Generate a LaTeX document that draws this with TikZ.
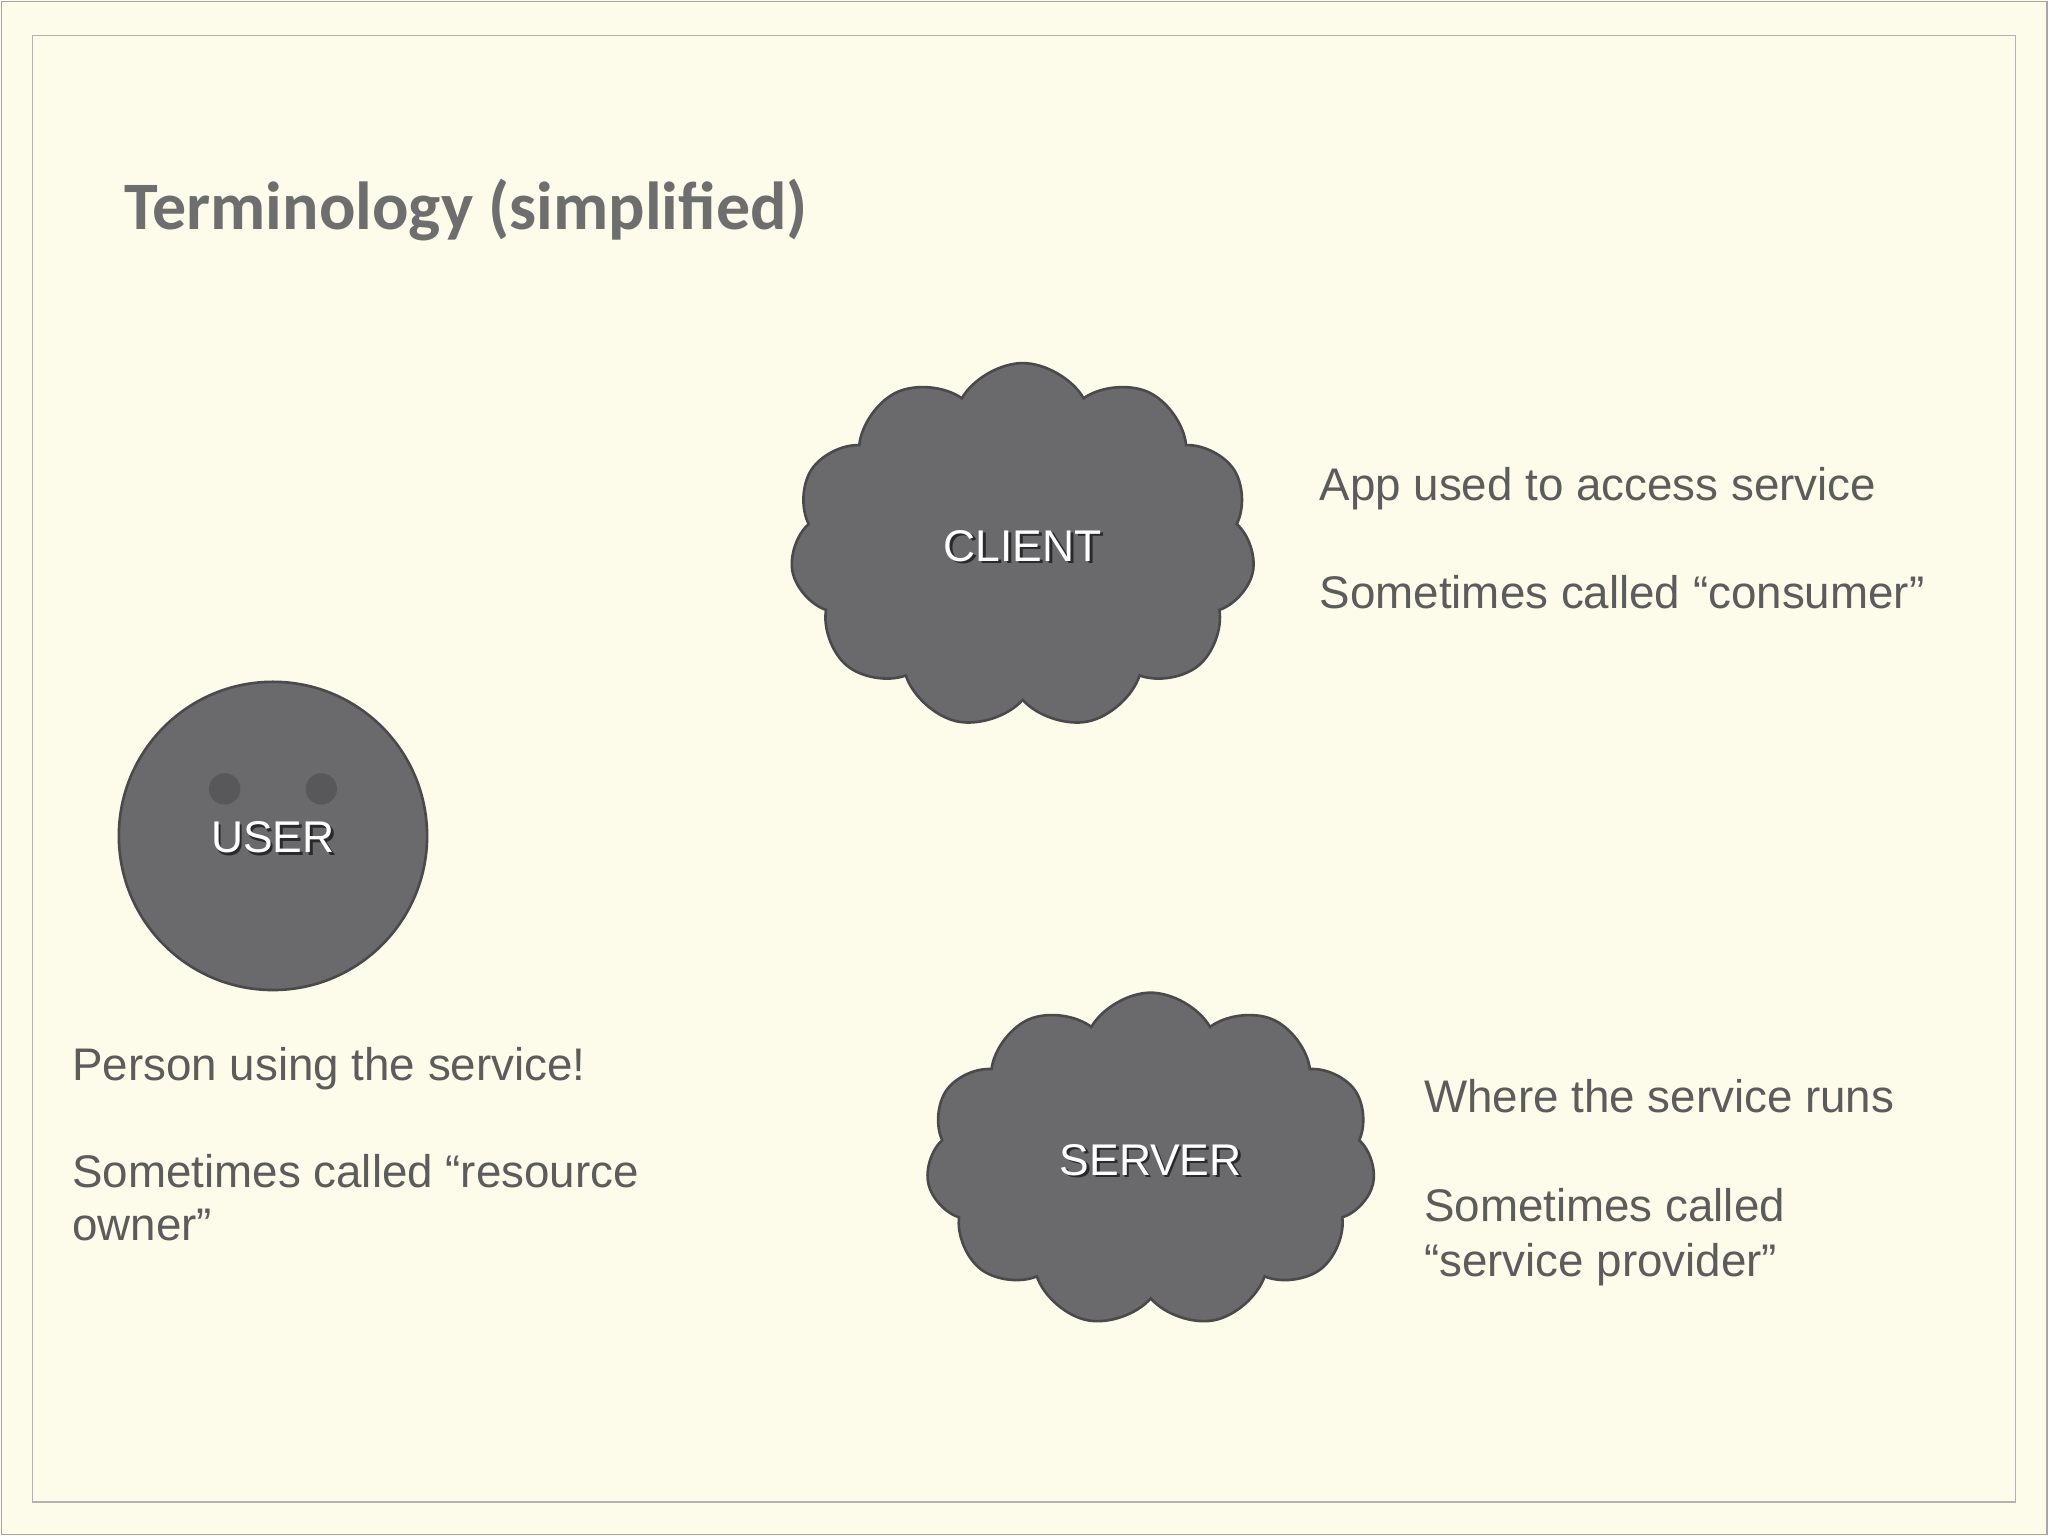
\documentclass[tikz,border=0pt]{standalone}
\usepackage{fontspec}
\setmainfont{Liberation Sans}
\newfontfamily\titlefont{Carlito}
\usetikzlibrary{shapes.symbols,calc}
\definecolor{bg}{HTML}{FDFBEA}
\definecolor{shape}{HTML}{6A6A6C}
\definecolor{eye}{HTML}{58585A}
\definecolor{txt}{HTML}{5C5C5C}
\definecolor{ttl}{HTML}{6E6E6E}
\tikzset{
  body/.style={anchor=base west,inner sep=0pt,text=txt,font=\fontsize{17.5}{21}\selectfont},
  lbl/.style={text=white,font=\fontsize{17}{20}\selectfont},
  lblsh/.style={text=black,opacity=0.6,font=\fontsize{17}{20}\selectfont},
  blob/.style={fill=shape,draw=shape!70!black,line width=1pt},
}
\begin{document}
\begin{tikzpicture}[x=0.5pt,y=-0.5pt]
\fill[bg] (0,0) rectangle (1568,1176);
\useasboundingbox (0,0) rectangle (1568,1176);
\draw[gray!70,line width=0.6pt] (1,1) rectangle (1567,1175);
\draw[gray!60,line width=0.5pt] (25,27) rectangle (1543,1150);
\node[anchor=base west,inner sep=0pt,text=ttl,font=\titlefont\bfseries\fontsize{26}{30}\selectfont] (title) at (95,176) {Terminology (simplified)};
% client
\node[cloud,cloud puffs=11,cloud puff arc=120,aspect=1.3,minimum width=178pt,minimum height=140pt,blob] (client) at (783,418) {};
\node[lblsh] at ($(client.center)+(2,2)$) {CLIENT};
\node[lbl] (clientl) at (client.center) {CLIENT};
% server
\node[cloud,cloud puffs=11,cloud puff arc=120,aspect=1.35,minimum width=172pt,minimum height=128pt,blob] (server) at (881,888) {};
\node[lblsh] at ($(server.center)+(2,2)$) {SERVER};
\node[lbl] (serverl) at (server.center) {SERVER};
% user
\node[circle,minimum size=118pt,blob] (user) at (209,640) {};
\fill[eye] (172,604) circle (12);
\fill[eye] (246,604) circle (12);
\node[lblsh] at ($(user.center)+(2,3)$) {USER};
\node[lbl] (userl) at ($(user.center)+(0,1)$) {USER};
% texts
\node[body] (c1) at (1010,383) {App used to access service};
\node[body] (c2) at (1010,466) {Sometimes called “consumer”};
\node[body] (u1) at (55,827) {Person using the service!};
\node[body] (u2) at (55,909) {Sometimes called “resource};
\node[body] (u3) at (55,950) {owner”};
\node[body] (s1) at (1090,852) {Where the service runs};
\node[body] (s2) at (1090,935) {Sometimes called};
\node[body] (s3) at (1090,977) {“service provider”};
\end{tikzpicture}
\end{document}
